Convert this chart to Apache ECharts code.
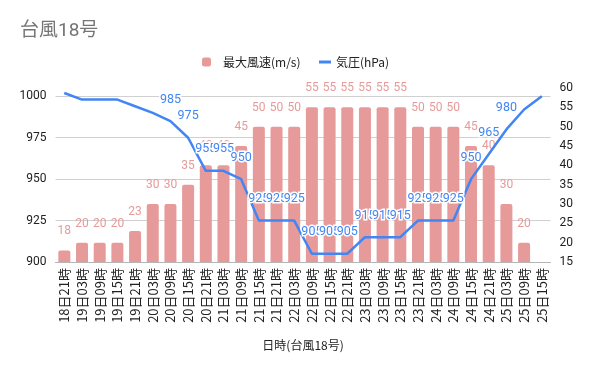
<!DOCTYPE html>
<html>
<head>
<meta charset="utf-8">
<script src="https://cdn.jsdelivr.net/npm/echarts@6/dist/echarts.min.js"></script>
<style>
html,body{margin:0;padding:0;background:#fff;}
#chart{width:600px;height:371px;}
</style>
</head>
<body>
<div id="chart"></div>
<script>
const titleText = '台風18号';
const categories = ['18日21時','19日03時','19日09時','19日15時','19日21時','20日03時','20日09時','20日15時','20日21時','21日03時','21日09時','21日15時','21日21時','22日03時','22日09時','22日15時','22日21時','23日03時','23日09時','23日15時','23日21時','24日03時','24日09時','24日15時','24日21時','25日03時','25日09時','25日15時'];
const windName = '最大風速(m/s)';
const windSpeed = [18,20,20,20,23,30,30,35,40,40,45,50,50,50,55,55,55,55,55,55,50,50,50,45,40,30,20,null];
const pressureName = '気圧(hPa)';
const pressure = [1002,998,998,998,994,990,985,975,955,955,950,925,925,925,905,905,905,915,915,915,925,925,925,950,965,980,992,1000];
const pressureLabelFirst = 6, pressureLabelLast = 25;
const xAxisName = '日時(台風18号)';

const FONT = 'Roboto, "Noto Sans CJK JP", sans-serif';
const CJK = '"Noto Sans CJK JP", Roboto, sans-serif';
const chart = echarts.init(document.getElementById('chart'), null, {renderer:'canvas'});
chart.setOption({
  animation:false,
  backgroundColor:'#fff',
  textStyle:{fontFamily:FONT},
  title:{text:titleText,left:20,top:22,padding:0,
    textStyle:{fontSize:19,fontWeight:'normal',color:'#757575',fontFamily:FONT}},
  legend:[
    {data:[{name:windName,icon:'roundRect'}],left:202,top:56,padding:0,itemWidth:9,itemHeight:9,
      textStyle:{fontSize:12,color:'#222',fontFamily:CJK,padding:[0,0,0,7]}},
    {data:[{name:pressureName,icon:'path://M0,0 L12,0 L12,3 L0,3 Z'}],left:319,top:56,padding:0,itemWidth:12,itemHeight:3,
      textStyle:{fontSize:12,color:'#222',fontFamily:CJK}}
  ],
  grid:{left:55.5,right:49.4,top:88,bottom:109},
  xAxis:{type:'category',data:categories,
    axisTick:{show:false},
    axisLine:{lineStyle:{color:'#b5b5b5'}},
    axisLabel:{rotate:90,interval:0,fontSize:13,color:'#222',margin:6,fontFamily:CJK},
    name:xAxisName,nameLocation:'middle',nameGap:77,
    nameTextStyle:{fontSize:12,color:'#222',fontFamily:CJK}},
  yAxis:[
    {type:'value',min:900,max:1005,interval:25,
      axisLine:{show:false},axisTick:{show:false},
      axisLabel:{showMaxLabel:false,fontSize:12,color:'#222',margin:9,fontFamily:FONT,formatter:v=>String(v)},
      splitLine:{showMaxLine:false,lineStyle:{color:'#d0d0d0'}}},
    {type:'value',min:15,max:60,interval:5,
      axisLine:{show:false},axisTick:{show:false},splitLine:{show:false},
      axisLabel:{fontSize:12,color:'#222',margin:9,fontFamily:FONT}}
  ],
  series:[
    {name:windName,type:'bar',yAxisIndex:1,data:windSpeed,barWidth:12,
      itemStyle:{color:'#e69a9a',borderRadius:[2,2,0,0]},
      label:{show:true,position:'top',distance:13,color:'#e69a9a',fontSize:12,fontFamily:FONT}},
    {name:pressureName,type:'line',yAxisIndex:0,data:pressure,
      symbol:'circle',symbolSize:1,showSymbol:true,
      lineStyle:{width:2.5,color:'#4285f4'},itemStyle:{color:'#4285f4'},
      label:{show:true,position:'top',distance:15,color:'#4285f4',fontSize:12.5,fontFamily:FONT,
        textBorderColor:'#fff',textBorderWidth:3,
        formatter:p=> (p.dataIndex>=pressureLabelFirst && p.dataIndex<=pressureLabelLast) ? String(p.value) : ''}}
  ]
});
</script>
</body>
</html>
